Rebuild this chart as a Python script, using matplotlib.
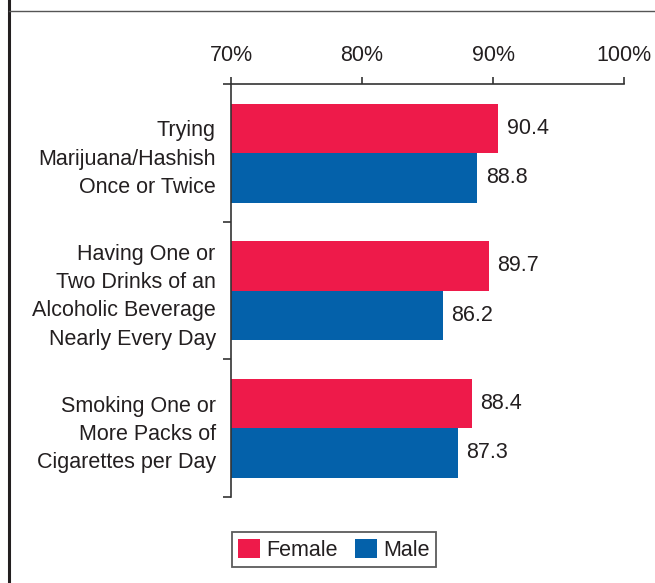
import matplotlib
matplotlib.use("Agg")
import matplotlib.pyplot as plt
import numpy as np
from matplotlib.lines import Line2D

plt.rcParams['font.family'] = ['Liberation Sans', 'DejaVu Sans']

categories = ['Trying\nMarijuana/Hashish\nOnce or Twice',
              'Having One or\nTwo Drinks of an\nAlcoholic Beverage\nNearly Every Day',
              'Smoking One or\nMore Packs of\nCigarettes per Day']
female = [90.4, 89.7, 88.4]
male = [88.8, 86.2, 87.3]
xticks = [70, 80, 90, 100]

FEMALE_C = '#EE1A4A'
MALE_C = '#0461AA'
TXT = '#231F20'
FS = 15.5

fig = plt.figure(figsize=(6.55, 5.83), dpi=100)
ax = fig.add_axes([0.3527, 0.1475, 0.6, 0.708])

y = np.arange(len(categories))
h = 0.36
ax.barh(y - h / 2, np.array(female) - 70, left=70, height=h, color=FEMALE_C, label='Female')
ax.barh(y + h / 2, np.array(male) - 70, left=70, height=h, color=MALE_C, label='Male')

for i in range(len(categories)):
    ax.annotate(f'{female[i]:.1f}', (female[i], y[i] - h / 2), xytext=(6, 0),
                textcoords='offset points', va='center', ha='left', fontsize=FS, color=TXT)
    ax.annotate(f'{male[i]:.1f}', (male[i], y[i] + h / 2), xytext=(6, 0),
                textcoords='offset points', va='center', ha='left', fontsize=FS, color=TXT)

ax.set_xlim(70, 100)
ax.set_ylim(2.5, -0.5)
ax.xaxis.tick_top()
ax.set_xticks(xticks)
ax.set_xticklabels([f'{t}%' for t in xticks], fontsize=FS, color=TXT)
ax.tick_params(axis='x', which='major', direction='out', length=5, width=1.2,
               color='#333333', pad=8)

ax.set_yticks(y)
ax.set_yticklabels(categories, fontsize=FS, color=TXT, linespacing=1.45)
ax.tick_params(axis='y', which='major', length=0, pad=11)
ax.set_yticks([-0.5, 0.5, 1.5, 2.5], minor=True)
ax.tick_params(axis='y', which='minor', direction='out', length=6, width=1.2, color='#333333')

for s in ['right', 'bottom']:
    ax.spines[s].set_visible(False)
for s in ['top', 'left']:
    ax.spines[s].set_color('#333333')
    ax.spines[s].set_linewidth(1.2)

leg = fig.legend(loc='lower left', bbox_to_anchor=(0.354, 0.027), fontsize=FS,
                 frameon=True, fancybox=False, handlelength=1.0, handleheight=1.0,
                 handletextpad=0.3, columnspacing=0.8, ncol=2, borderpad=0.3,
                 borderaxespad=0)
leg.get_frame().set_edgecolor('#333333')
leg.get_frame().set_linewidth(1.3)
for t in leg.get_texts():
    t.set_color(TXT)

# page frame lines
fig.add_artist(Line2D([9 / 655, 9 / 655], [0, 1], color='#231F20', linewidth=2.2))
fig.add_artist(Line2D([9 / 655, 1], [1 - 11 / 583, 1 - 11 / 583], color='#555555', linewidth=1.0))

fig.savefig('out.png', dpi=100)
